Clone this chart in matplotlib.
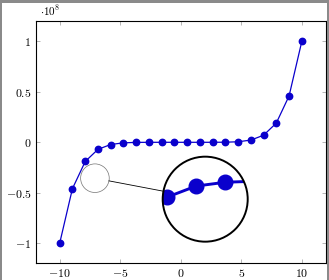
import numpy as np
import matplotlib
matplotlib.use("Agg")
import matplotlib.pyplot as plt
from matplotlib.patches import Circle, Rectangle
from matplotlib.lines import Line2D
from matplotlib.transforms import ScaledTranslation

plt.rcParams['mathtext.fontset'] = 'cm'
plt.rcParams['font.family'] = 'DejaVu Serif'

# data (y in units of 1e8)
x_vals = [-10, -8.95, -7.89, -6.84, -5.79, -4.74, -3.68, -2.63, -1.58, -0.53,
          0.53, 1.58, 2.63, 3.68, 4.74, 5.79, 6.84, 7.89, 8.95, 10]
y_vals = [-1.0, -0.46, -0.19, -0.07, -0.022, -0.0054, -0.0009, -0.0001, 0.0, 0.0,
          0.0, 0.0, 0.0001, 0.0009, 0.0054, 0.022, 0.07, 0.19, 0.46, 1.0]
scale = 1e8
x_ticks = [-10, -5, 0, 5, 10]
x_tick_labels = ['$-10$', '$-5$', '$0$', '$5$', '$10$']
y_ticks = [-1, -0.5, 0, 0.5, 1]
y_tick_labels = ['$-1$', '$-0.5$', '$0$', '$0.5$', '$1$']

color = '#0A00CC'
W, H = 329, 280
dpi = 100
fig = plt.figure(figsize=(W / dpi, H / dpi), dpi=dpi)
fig.patch.set_facecolor('white')

left, right, top, bottom = 35.5, 326.0, 21.3, 263.3
ax = fig.add_axes([left / W, 1 - bottom / H, (right - left) / W, (bottom - top) / H])

xs = np.array(x_vals)
ys = np.array(y_vals) * scale
ax.plot(xs, ys, color=color, lw=0.9, marker='o', ms=4.6, mfc=color, mec=color, zorder=3)
ax.set_xlim(-12, 12)
ax.set_ylim(-1.2 * scale, 1.2 * scale)
ax.set_xticks(x_ticks)
ax.set_xticklabels(x_tick_labels)
ax.set_yticks([v * scale for v in y_ticks])
ax.set_yticklabels(y_tick_labels)
ax.tick_params(direction='in', top=True, right=True, length=3, width=0.5,
               color='0.6', labelsize=8.5, pad=3)
for s in ax.spines.values():
    s.set_linewidth(0.8)
ax.text(40.5 / W, 1 - 15.5 / H, r'$\cdot 10^{8}$', transform=fig.transFigure,
        fontsize=8, ha='left', va='baseline')

# spy: small circle and magnified circle
small_c = (-7.09, -0.356 * scale)
small_r = 14.3  # px
big_c = (2.02, -0.564 * scale)
big_r = 42.5  # px

small = Circle((0, 0), small_r / dpi, transform=fig.dpi_scale_trans +
               ScaledTranslation(small_c[0], small_c[1], ax.transData),
               fill=False, ec='0.45', lw=0.5, zorder=5)
ax.add_artist(small)

# connector line between the circles
p1 = ax.transData.transform(small_c)
p2 = ax.transData.transform(big_c)
d = (p2 - p1) / np.hypot(*(p2 - p1))
a = p1 + d * small_r
b = p2 - d * big_r
fig.add_artist(Line2D([a[0], b[0]], [a[1], b[1]], transform=None, color='black', lw=0.6, zorder=5))

# inset axes for magnified view
bx, by = p2
ins = fig.add_axes([(bx - big_r) / W, (by - big_r) / H, 2 * big_r / W, 2 * big_r / H])
ins.set_xlim(-7.0, -3.92)
ins.set_ylim(-0.264 * scale, 0.106 * scale)
ins.axis('off')
bg = Circle((0.5, 0.5), 0.5, transform=ins.transAxes, fc='white', ec='none', zorder=0)
ins.add_artist(bg)
clipc = Circle((0.5, 0.5), 0.5, transform=ins.transAxes)
ln, = ins.plot(xs, ys, color=color, lw=2.1, marker='o', ms=10.5, mfc=color, mec=color, zorder=2)
ln.set_clip_path(clipc)
edge = Circle((0.5, 0.5), 0.5, transform=ins.transAxes, fill=False, ec='black', lw=1.4,
              zorder=4, clip_on=False)
ins.add_artist(edge)

# gray frame of the screenshot
g = '#8a8a8a'
fig.add_artist(Rectangle((0, 1 - 3 / H), 1, 3 / H, transform=fig.transFigure, fc=g, ec='none'))
fig.add_artist(Rectangle((0, 0), 2 / W, 1, transform=fig.transFigure, fc=g, ec='none'))
fig.add_artist(Rectangle((1 - 2 / W, 0), 2 / W, 1, transform=fig.transFigure, fc=g, ec='none'))

fig.savefig('out.png', dpi=dpi)
